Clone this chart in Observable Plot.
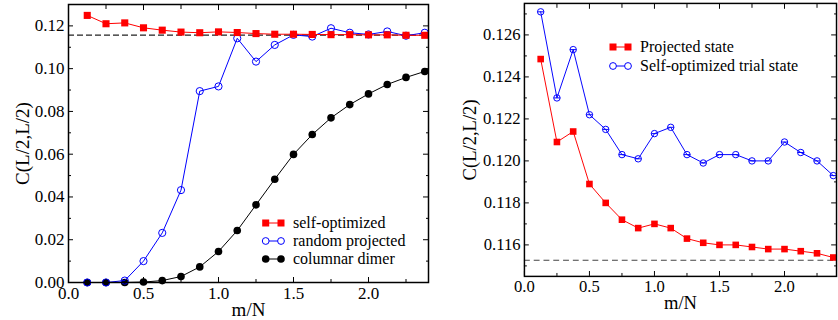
<!DOCTYPE html>
<html><head><meta charset="utf-8">
<script src="https://cdn.jsdelivr.net/npm/d3@7"></script>
<script src="https://cdn.jsdelivr.net/npm/@observablehq/plot@0.6"></script>
<style>
html,body{margin:0;padding:0;background:#fff;}
body{width:838px;height:320px;overflow:hidden;position:relative;font-family:"Times New Roman",Times,"Liberation Serif","DejaVu Serif",serif;}
#left{position:absolute;left:0;top:0}
#right{position:absolute;left:430px;top:0}
.legend{position:absolute;font-size:16px;font-family:"Times New Roman",Times,"Liberation Serif","DejaVu Serif",serif;color:#000;}
.row{display:flex;align-items:center;white-space:nowrap}
.row svg{display:block;flex:none}
svg text{font-family:"Times New Roman",Times,"Liberation Serif","DejaVu Serif",serif;}
</style></head><body>
<div id="left"></div><div id="right"></div>
<div id="legL" class="legend" style="left:258px;top:214px"></div>
<div id="legR" class="legend" style="left:606px;top:37px"></div>
<script>
// ---- data ----
const mN = [0.125,0.25,0.375,0.5,0.625,0.75,0.875,1.0,1.125,1.25,1.375,1.5,1.625,1.75,1.875,2.0,2.125,2.25,2.375];
const leftSelfOptimized = [0.1249,0.1210,0.1214,0.1191,0.1180,0.1171,0.1168,0.1172,0.1169,0.1164,0.1161,0.1161,0.1160,0.1159,0.1159,0.1158,0.1158,0.1156,0.1156];
const leftRandomProjected = [0,0,0.0009,0.0100,0.0232,0.0432,0.0895,0.0917,0.1142,0.1033,0.1111,0.1158,0.1150,0.1189,0.1168,0.1160,0.1174,0.1154,0.1168];
const leftColumnarDimer = [0,0,0,0.0002,0.0009,0.0028,0.0073,0.0145,0.0243,0.0363,0.0483,0.0599,0.0692,0.0770,0.0832,0.0882,0.0926,0.0959,0.0987];
const rightProjected = [0.12485,0.1209,0.1214,0.1189,0.1180,0.1172,0.1168,0.1170,0.1168,0.1163,0.1161,0.1160,0.1160,0.1159,0.1158,0.1158,0.1157,0.1156,0.1154];
const rightSelfOptTrial = [0.1271,0.1230,0.1253,0.1222,0.1215,0.1203,0.1201,0.1213,0.1216,0.1203,0.1199,0.1203,0.1203,0.1200,0.1200,0.1209,0.1204,0.1200,0.1193];
const leftRef = 0.1157;
const rightRef = 0.11527;
const xMajor = [0,0.5,1,1.5,2];
const xMinor = [0.25,0.75,1.25,1.75,2.25];
const leftYMajor = [0,0.02,0.04,0.06,0.08,0.10,0.12];
const leftYMinor = [0.01,0.03,0.05,0.07,0.09,0.11];
const rightYMajor = [0.116,0.118,0.120,0.122,0.124,0.126];
const rightYMinor = [0.115,0.117,0.119,0.121,0.123,0.125,0.127];
const leftLegend = ["self-optimized","random projected","columnar dimer"];
const rightLegend = ["Projected state","Self-optimized trial state"];

const RED = "#ff0000", BLUE = "#0000ff", BLACK = "#000000";
const SERIF = "'Times New Roman', Times, 'Liberation Serif', 'DejaVu Serif', serif";
const toRows = ys => mN.map((x,i) => ({x, y: ys[i]}));

const dashSymbol = {draw(ctx, size){ const r = Math.sqrt(size/Math.PI); ctx.moveTo(-r,0); ctx.lineTo(r,0); }};

function axes(yMajor, yMinor, yFmt, xLabel, yLabel, yLabelDx) {
  const none = () => "";
  return [
    Plot.axisX(xMajor, {anchor:"bottom", tickSize:-5, tickPadding:9, tickFormat:d3.format(".1f"), fontSize:17, label:null}),
    Plot.axisX(xMinor, {anchor:"bottom", tickSize:-3, tickFormat:none, label:null}),
    Plot.axisX(xMajor, {anchor:"top", tickSize:-5, tickFormat:none, label:null}),
    Plot.axisX(xMinor, {anchor:"top", tickSize:-4, tickFormat:none, label:null}),
    Plot.axisY(yMajor, {anchor:"left", tickSize:-5, tickPadding:9, tickFormat:d3.format(yFmt), fontSize:17, label:null}),
    Plot.axisY(yMinor, {anchor:"left", tickSize:-3, tickFormat:none, label:null}),
    Plot.axisY(yMajor, {anchor:"right", tickSize:-6, tickFormat:none, label:null}),
    Plot.axisY(yMinor, {anchor:"right", tickSize:-3, tickFormat:none, label:null}),
    Plot.text([xLabel], {frameAnchor:"bottom", dy:27, fontSize:19, textAnchor:"middle", lineAnchor:"middle"}),
    Plot.text([yLabel], {frameAnchor:"left", dx:yLabelDx, rotate:-90, fontSize:19, textAnchor:"middle", lineAnchor:"middle"})
  ];
}

const common = {height:320, marginRight:2, marginBottom:38,
  style:{fontFamily:SERIF, fontSize:"17px", color:"black", background:"white", overflow:"visible"},
  x:{domain:[0,2.4]}};

const left = Plot.plot({
  ...common, width:430, marginLeft:68, marginTop:4,
  y:{domain:[0,0.13]},
  marks:[
    Plot.ruleY([leftRef], {stroke:"#222", strokeDasharray:"6,3", strokeWidth:1.2}),
    Plot.line(toRows(leftColumnarDimer), {x:"x", y:"y", stroke:BLACK, strokeWidth:1}),
    Plot.dot(toRows(leftColumnarDimer), {x:"x", y:"y", r:3.8, fill:BLACK, stroke:"none"}),
    Plot.line(toRows(leftRandomProjected), {x:"x", y:"y", stroke:BLUE, strokeWidth:1}),
    Plot.dot(toRows(leftRandomProjected), {x:"x", y:"y", r:3.6, fill:"none", stroke:BLUE, strokeWidth:1}),
    Plot.line(toRows(leftSelfOptimized), {x:"x", y:"y", stroke:RED, strokeWidth:1}),
    Plot.dot(toRows(leftSelfOptimized), {x:"x", y:"y", r:4, symbol:"square", fill:RED, stroke:"none"}),
    Plot.frame({stroke:"black", strokeWidth:1.5}),
    ...axes(leftYMajor, leftYMinor, ".2f", "m/N", "C(L/2,L/2)", -46)
  ]
});
document.getElementById("left").append(left);

const right = Plot.plot({
  ...common, width:417, marginLeft:96, marginTop:3,
  y:{domain:[0.1145,0.1275]},
  marks:[
    Plot.ruleY([rightRef], {stroke:"#444", strokeDasharray:"6,4", strokeWidth:1.2}),
    Plot.line(toRows(rightSelfOptTrial), {x:"x", y:"y", stroke:BLUE, strokeWidth:1}),
    Plot.dot(toRows(rightSelfOptTrial), {x:"x", y:"y", r:3.3, fill:"none", stroke:BLUE, strokeWidth:1}),
    Plot.dot(toRows(rightSelfOptTrial), {x:"x", y:"y", r:3.3, symbol:dashSymbol, fill:"none", stroke:BLUE, strokeWidth:1}),
    Plot.line(toRows(rightProjected), {x:"x", y:"y", stroke:RED, strokeWidth:1}),
    Plot.dot(toRows(rightProjected), {x:"x", y:"y", r:3.8, symbol:"square", fill:RED, stroke:"none"}),
    Plot.frame({stroke:"black", strokeWidth:1.5}),
    ...axes(rightYMajor, rightYMinor, ".3f", "m/N", "C(L/2,L/2)", -56)
  ]
});
document.getElementById("right").append(right);

// ---- legends ----
function marker(kind, color, x) {
  if (kind === "square") return `<rect x="${x-3.5}" y="2.5" width="7" height="7" fill="${color}"/>`;
  if (kind === "open") return `<circle cx="${x}" cy="6" r="3.4" fill="white" stroke="${color}" stroke-width="1"/>`;
  return `<circle cx="${x}" cy="6" r="3.8" fill="${color}"/>`;
}
function legendRow(label, kind, color, w, x0, x1, gap, h) {
  return `<div class="row" style="height:${h}px"><svg width="${w}" height="12"><line x1="${x0}" x2="${x1}" y1="6" y2="6" stroke="${color}" stroke-width="1"/>${marker(kind,color,x0)}${marker(kind,color,x1)}</svg><span style="margin-left:${gap}px">${label}</span></div>`;
}
document.getElementById("legL").innerHTML =
  legendRow(leftLegend[0], "square", RED, 28, 7.7, 23, 7, 18) +
  legendRow(leftLegend[1], "open", BLUE, 28, 7.7, 23, 7, 18) +
  legendRow(leftLegend[2], "filled", BLACK, 28, 7.7, 23, 7, 18);
document.getElementById("legR").innerHTML =
  legendRow(rightLegend[0], "square", RED, 29, 7, 22, 5, 19) +
  legendRow(rightLegend[1], "open", BLUE, 29, 7, 22, 5, 19);
</script>
</body></html>
